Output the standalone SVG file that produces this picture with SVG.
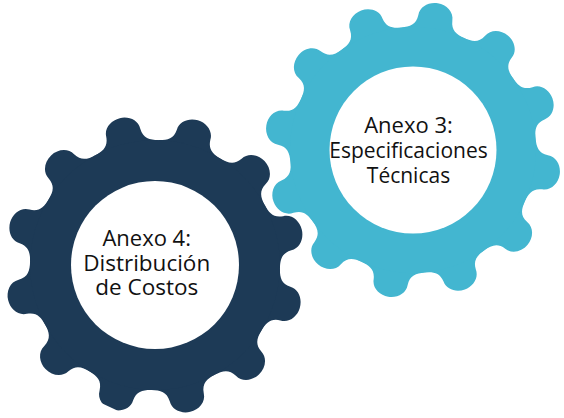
<svg xmlns="http://www.w3.org/2000/svg" width="564" height="418" viewBox="0 0 564 418">
<style>
.dark{fill:#1d3a56}
.blue{fill:#43b6d0}
.hole{fill:#fff}
text{font-family:"Open Sans","Noto Sans",sans-serif;fill:#111;text-anchor:middle}
.a{font-size:22px}
.b{font-size:21px}
.c{font-size:22.5px}
</style>
<defs>
<path id="tooth" d="M0,0L-32.4,-120.7C-24,-123 -18,-126 -17.5,-136C-17.5,-145 -9,-151 0,-151C9,-151 17.5,-145 17.5,-136C18,-126 24,-123 32.4,-120.7Z"/>
<g id="gear">
<use href="#tooth" transform="rotate(0)"/><use href="#tooth" transform="rotate(30)"/><use href="#tooth" transform="rotate(60)"/><use href="#tooth" transform="rotate(90)"/><use href="#tooth" transform="rotate(120)"/><use href="#tooth" transform="rotate(150)"/><use href="#tooth" transform="rotate(180)"/><use href="#tooth" transform="rotate(210)"/><use href="#tooth" transform="rotate(240)"/><use href="#tooth" transform="rotate(270)"/><use href="#tooth" transform="rotate(300)"/><use href="#tooth" transform="rotate(330)"/>
<circle r="125"/>
</g>
</defs>
<rect width="564" height="418" fill="#fff"/>
<g id="connectors"></g>
<g id="anexo3">
<use href="#gear" class="blue" transform="translate(413,150) rotate(9.6) scale(0.985)"/>
<circle class="hole" cx="413" cy="150" r="83.5"/>
<text class="a" x="408.5" y="132.7">Anexo 3:</text>
<text class="b" x="408.5" y="157.7">Especificaciones</text>
<text class="b" x="408.5" y="182.7">Técnicas</text>
</g>
<g id="anexo4">
<use href="#gear" class="dark" transform="translate(155,265) rotate(16.5)"/>
<polygon class="hole" points="98,401.5 120.5,412 112,418 95,410"/>
<circle class="hole" cx="155" cy="265" r="84"/>
<text class="a" x="146.7" y="246">Anexo 4:</text>
<text class="c" x="146.7" y="270.7">Distribución</text>
<text class="c" x="146.7" y="295">de Costos</text>
</g>
</svg>
